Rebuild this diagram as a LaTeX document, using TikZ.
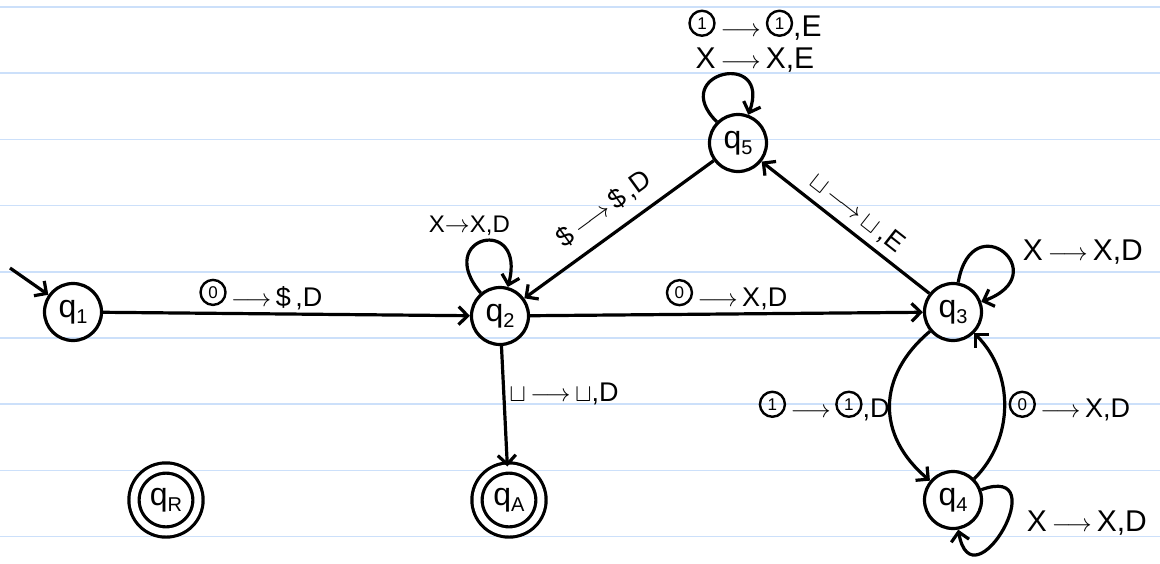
\documentclass[tikz,border=0pt]{standalone}
\usepackage{fontspec}
\setmainfont{Liberation Sans}
\usetikzlibrary{arrows.meta}

\definecolor{paperblue}{RGB}{204,224,250}

% circled tape symbol and state name
\newcommand{\csym}[1]{\tikz[baseline={([yshift=0pt]c.south)}]
  \node[draw, circle, inner sep=0pt, minimum size=25pt, line width=2.4pt,
    font=\fontsize{17}{17}\selectfont] (c) {#1};}
\newcommand{\qs}[1]{q\raisebox{-6pt}{\fontsize{20}{20}\selectfont #1}}
\newcommand{\blank}{$\sqcup$}
\newcommand{\ra}{\,$\longrightarrow$\,}

\begin{document}
\begin{tikzpicture}[x=1pt, y=-1pt,
  line width=3.2pt,
  >={Straight Barb[length=9pt,width=18pt]},
  state/.style={circle, draw, minimum size=57pt, inner sep=0pt,
    font=\fontsize{32}{32}\selectfont},
  final/.style={state, double, double distance=7pt, minimum size=64pt},
  trans/.style={font=\fontsize{27}{30}\selectfont, inner sep=4pt},
  bigtrans/.style={font=\fontsize{30}{32}\selectfont, inner sep=4pt},
  paperline/.style={line width=1.6pt, draw=paperblue}]
\useasboundingbox (0,0) rectangle (1160,563);
\fill[white] (0,0) rectangle (1160,563);
\foreach \k in {0,...,8}
  \draw[paperline] (0,7+66.2*\k) -- (1160,7+66.2*\k);

\node[state] (q1) at (73,312) {\qs{1}};
\node[state] (q2) at (500,316) {\qs{2}};
\node[state] (q5) at (738,143) {\qs{5}};
\node[state] (q3) at (953,312) {\qs{3}};
\node[state] (q4) at (953,500) {\qs{4}};
\node[final] (qA) at (509,500) {\qs{A}};
\node[final] (qR) at (166,500) {\qs{R}};
\coordinate (start) at (10,268);

\draw[->] (start) -- (q1);
\draw[->] (q1) -- node[trans, above, pos=0.43] {\csym{0}\ra\$\,,D} (q2);
\draw[->] (q2) -- node[trans, above] {\csym{0}\ra X,D} (q3);
\draw[->] (q2) -- node[trans, right, pos=0.4] {\blank\ra\blank,D} (qA);
\draw[<-] (q2) -- node[trans, sloped, above=8pt] {\$\ra\$\,,D} (q5);
\draw[<-] (q5) -- node[trans, sloped, above=2pt] {\blank\ra\blank\,,E} (q3);
\draw[->] (q3) to[out=220, in=140, looseness=1.2]
  node[trans, left, inner sep=0pt] {\csym{1}\ra\csym{1},D} (q4);
\draw[->] (q4) to[out=45, in=-45]
  node[trans, right] {\csym{0}\ra X,D} (q3);

% loops
\draw[->] (q2) to[out=130, in=75, min distance=75pt]
  node[trans, font=\fontsize{24}{26}\selectfont, above, xshift=-14pt] {X$\rightarrow$X,D} (q2);
\draw[->] (q5) to[out=135, in=70, min distance=70pt]
  node[bigtrans, above, align=center, xshift=32pt, inner sep=2pt] {\csym{1}\ra\csym{1},E\\X\ra X,E} (q5);
\draw[->] (q3) to[out=80, in=20, min distance=80pt]
  node[bigtrans, right, xshift=14pt] {X\ra X,D} (q3);
\draw[->] (q4) to[out=20, in=-80, min distance=80pt]
  node[bigtrans, right, xshift=18pt, yshift=6pt] {X\ra X,D} (q4);
\end{tikzpicture}
\end{document}
